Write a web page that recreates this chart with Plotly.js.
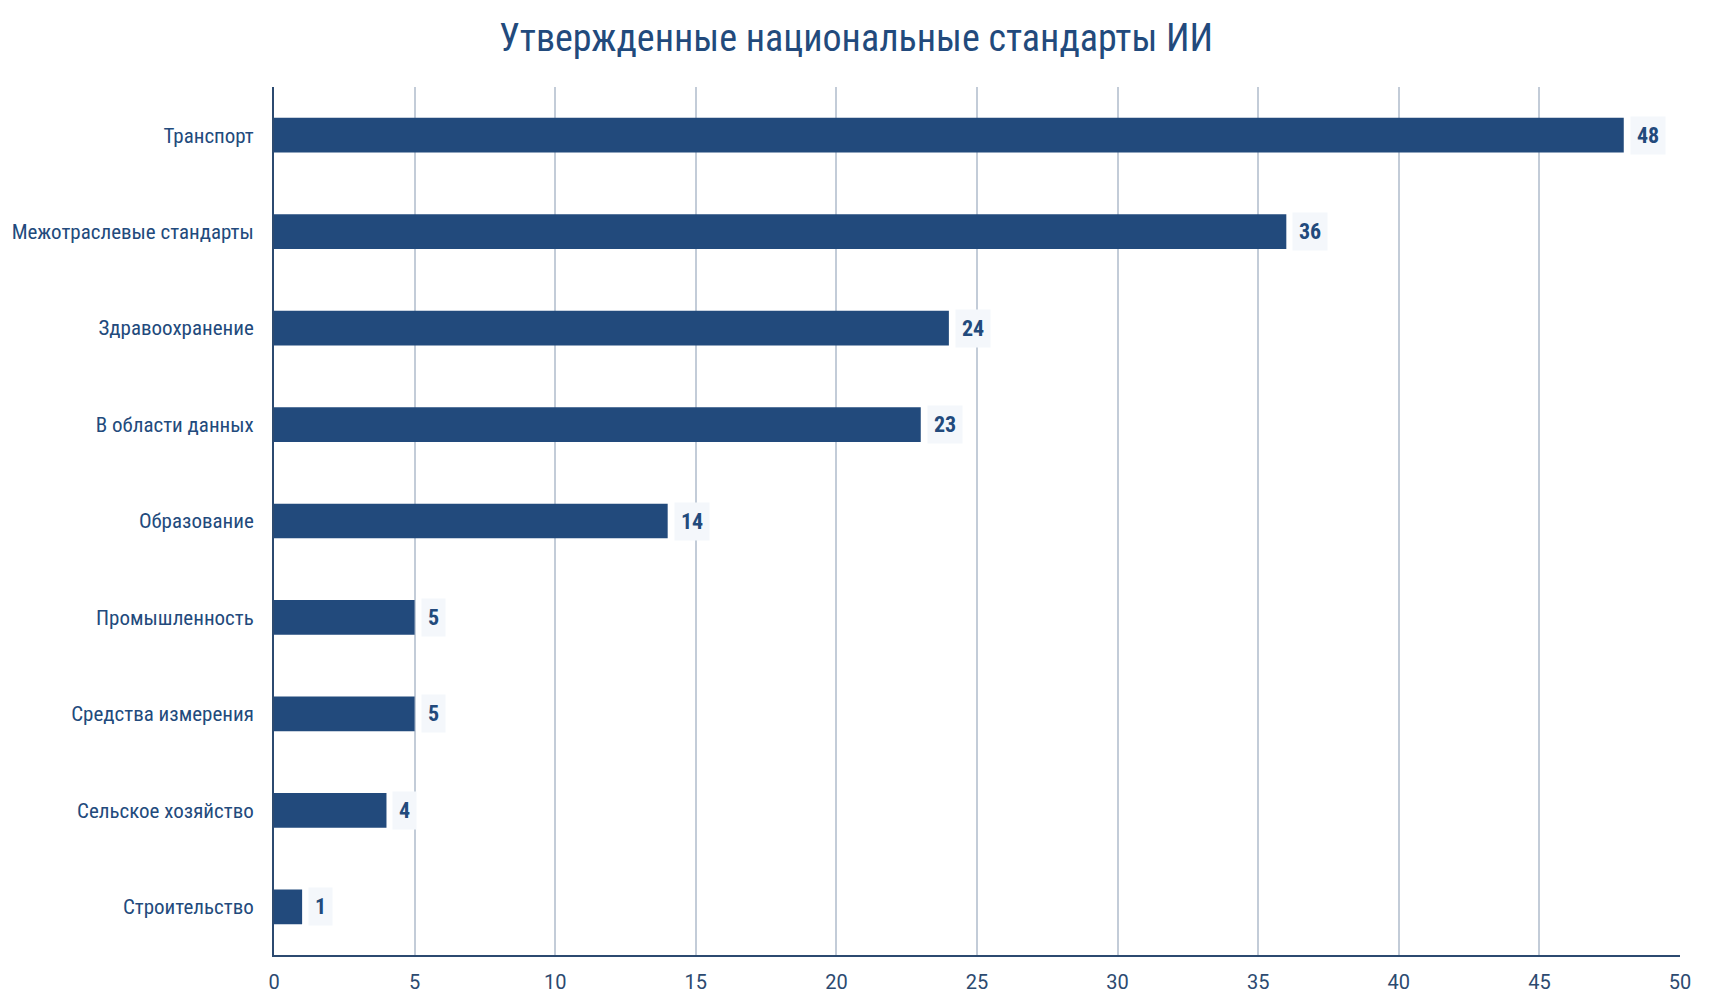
<!DOCTYPE html>
<html>
<head>
<meta charset="utf-8">
<script src="https://cdn.plot.ly/plotly-3.0.1.min.js"></script>
<style>
  html, body { margin: 0; padding: 0; background: #ffffff; }
  #chart { width: 1712px; height: 1003px; }
</style>
</head>
<body>
<div id="chart"></div>
<script>
var categories = [
  'Транспорт',
  'Межотраслевые стандарты',
  'Здравоохранение',
  'В области данных',
  'Образование',
  'Промышленность',
  'Средства измерения',
  'Сельское хозяйство',
  'Строительство'
];
var counts = [48, 36, 24, 23, 14, 5, 5, 4, 1];
var xTicks = [0, 5, 10, 15, 20, 25, 30, 35, 40, 45, 50];

var navy = '#224a7c';
var condensed = '"Roboto Condensed", "Liberation Sans Narrow", "DejaVu Sans Condensed", sans-serif';

var trace = {
  type: 'bar',
  orientation: 'h',
  x: counts,
  y: categories,
  width: 0.36,
  marker: { color: navy },
  hoverinfo: 'x+y',
  showlegend: false
};

var labels = categories.map(function(c, i) {
  return {
    x: counts[i],
    y: c,
    xref: 'x',
    yref: 'y',
    text: '<b>' + counts[i] + '</b>',
    showarrow: false,
    xanchor: 'left',
    xshift: 6,
    bgcolor: '#f4f7fb',
    borderpad: 6,
    font: { family: condensed, size: 22, color: navy }
  };
});

var layout = {
  title: {
    text: 'Утвержденные национальные стандарты ИИ',
    font: { family: condensed, size: 38, color: navy },
    x: 0.5,
    xanchor: 'center',
    y: 0.962,
    yanchor: 'middle'
  },
  xaxis: {
    range: [0, 50],
    tickvals: xTicks,
    showgrid: true,
    gridcolor: '#c3ccd8',
    gridwidth: 2,
    zeroline: false,
    showline: true,
    linecolor: '#2c4a70',
    linewidth: 2,
    ticks: '',
    ticklabelstandoff: 8,
    tickfont: { family: 'Roboto, sans-serif', size: 20, color: '#2c4a70' },
    fixedrange: true
  },
  yaxis: {
    autorange: 'reversed',
    showgrid: false,
    zeroline: false,
    showline: true,
    linecolor: '#2c4a70',
    linewidth: 2,
    ticks: '',
    ticklabelstandoff: 14,
    tickfont: { family: condensed, size: 21, color: navy },
    fixedrange: true
  },
  annotations: labels,
  plot_bgcolor: '#ffffff',
  paper_bgcolor: '#ffffff',
  margin: { t: 87, r: 32, b: 48, l: 274 },
  bargap: 0.64,
  width: 1712,
  height: 1003
};

Plotly.newPlot('chart', [trace], layout, { displayModeBar: false, responsive: false });
</script>
</body>
</html>
